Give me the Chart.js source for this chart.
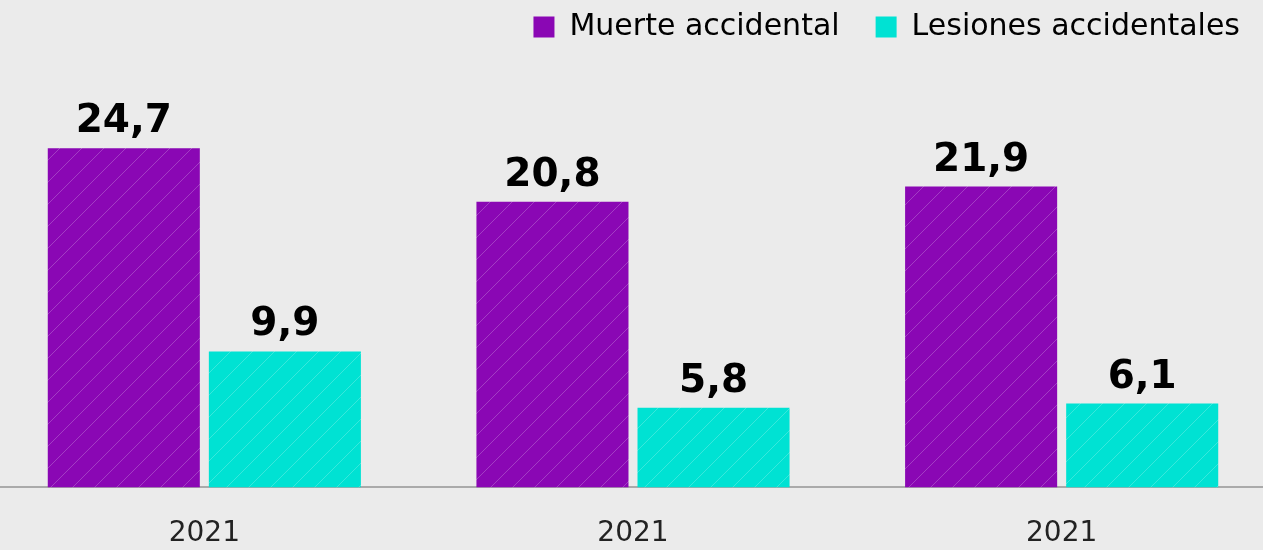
<!DOCTYPE html>
<html>
<head>
<meta charset="utf-8">
<script src="https://cdn.jsdelivr.net/npm/chart.js@4"></script>
<style>
    html, body { margin: 0; padding: 0; background: #ebebeb; overflow: hidden; }
    #wrap { position: absolute; left: -10px; top: -24px; width: 1286px; height: 605px; }
</style>
</head>
<body>
<div id="wrap"><canvas id="chart"></canvas></div>
<script>
const years = ["2021", "2021", "2021"];
const muerteAccidental = [24.7, 20.8, 21.9];
const lesionesAccidentales = [9.9, 5.8, 6.1];
const seriesNames = ["Muerte accidental", "Lesiones accidentales"];
const seriesColors = ["#8a07b4", "#00e2d3"];

// diagonal hatch over a solid colour
function hatch(color) {
    const size = 22;
    const c = document.createElement("canvas");
    c.width = size;
    c.height = size;
    const g = c.getContext("2d");
    g.fillStyle = color;
    g.fillRect(0, 0, size, size);
    g.strokeStyle = "rgba(255,255,255,0.22)";
    g.lineWidth = 1;
    g.beginPath();
    g.moveTo(0, size);
    g.lineTo(size, 0);
    g.moveTo(-size / 2, size / 2);
    g.lineTo(size / 2, -size / 2);
    g.moveTo(size / 2, size + size / 2);
    g.lineTo(size + size / 2, size / 2);
    g.stroke();
    return g.createPattern(c, "repeat");
}

// value labels above the bars, with comma decimals
const valueLabels = {
    id: "valueLabels",
    afterDatasetsDraw(chart) {
        const ctx = chart.ctx;
        ctx.save();
        ctx.font = "bold 39px 'DejaVu Sans'";
        ctx.fillStyle = "#000";
        ctx.textAlign = "center";
        ctx.textBaseline = "alphabetic";
        chart.data.datasets.forEach((ds, i) => {
            chart.getDatasetMeta(i).data.forEach((bar, j) => {
                const text = ds.data[j].toFixed(1).replace(".", ",");
                ctx.fillText(text, bar.x, bar.y - 16);
            });
        });
        ctx.restore();
    }
};

Chart.defaults.font.family = "'DejaVu Sans'";

new Chart(document.getElementById("chart").getContext("2d"), {
    type: "bar",
    data: {
        labels: years,
        datasets: [
            {
                label: seriesNames[0],
                data: muerteAccidental,
                backgroundColor: hatch(seriesColors[0])
            },
            {
                label: seriesNames[1],
                data: lesionesAccidentales,
                backgroundColor: hatch(seriesColors[1])
            }
        ]
    },
    options: {
        responsive: true,
        maintainAspectRatio: false,
        animation: false,
        categoryPercentage: 0.7515,
        barPercentage: 0.944,
        layout: { padding: 0 },
        plugins: {
            tooltip: { enabled: false },
            legend: {
                position: "top",
                align: "end",
                labels: {
                    boxWidth: 21,
                    boxHeight: 21,
                    padding: 36,
                    color: "#222",
                    font: { size: 30 },
                    generateLabels(chart) {
                        return chart.data.datasets.map((ds, i) => ({
                            text: ds.label,
                            fillStyle: seriesColors[i],
                            strokeStyle: "transparent",
                            lineWidth: 0,
                            datasetIndex: i
                        }));
                    }
                }
            }
        },
        scales: {
            x: {
                grid: { display: false, drawTicks: false },
                border: { display: true, color: "#aaaaaa", width: 2 },
                ticks: { color: "#222", font: { size: 28 }, padding: 30 }
            },
            y: {
                display: false,
                min: 0,
                max: 31.7
            }
        }
    },
    plugins: [valueLabels]
});
</script>
</body>
</html>
